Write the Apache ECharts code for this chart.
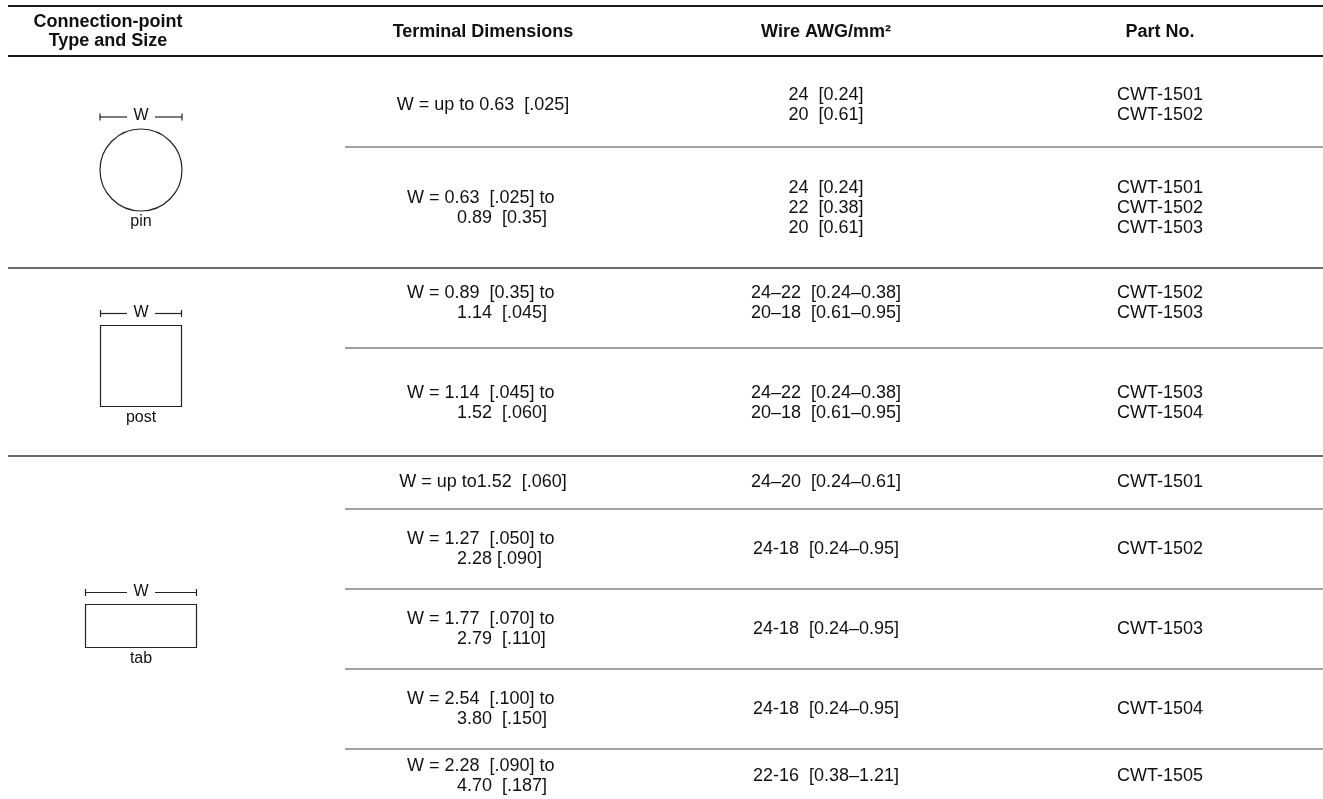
<!DOCTYPE html>
<html>
<head>
<meta charset="utf-8">
<script src="https://cdn.jsdelivr.net/npm/echarts@6/dist/echarts.min.js"></script>
<style>
  html, body { margin: 0; padding: 0; background: #fff; }
  #chart { width: 1323px; height: 799px; }
</style>
</head>
<body>
<div id="chart"></div>
<script>
// table content
const headers = ['Connection-point\nType and Size', 'Terminal Dimensions', 'Wire AWG/mm²', 'Part No.']
const connTypes = ['pin', 'post', 'tab']
const connRowCount = [2, 2, 5]
const dimensions = [
  ['W = up to 0.63  [.025]'],
  ['W = 0.63  [.025] to', '0.89  [0.35]'],
  ['W = 0.89  [0.35] to', '1.14  [.045]'],
  ['W = 1.14  [.045] to', '1.52  [.060]'],
  ['W = up to1.52  [.060]'],
  ['W = 1.27  [.050] to', '2.28 [.090]'],
  ['W = 1.77  [.070] to', '2.79  [.110]'],
  ['W = 2.54  [.100] to', '3.80  [.150]'],
  ['W = 2.28  [.090] to', '4.70  [.187]'],
]
const wireSizes = [
  ['24  [0.24]', '20  [0.61]'],
  ['24  [0.24]', '22  [0.38]', '20  [0.61]'],
  ['24–22  [0.24–0.38]', '20–18  [0.61–0.95]'],
  ['24–22  [0.24–0.38]', '20–18  [0.61–0.95]'],
  ['24–20  [0.24–0.61]'],
  ['24-18  [0.24–0.95]'],
  ['24-18  [0.24–0.95]'],
  ['24-18  [0.24–0.95]'],
  ['22-16  [0.38–1.21]'],
]
const partNumbers = [
  ['CWT-1501', 'CWT-1502'],
  ['CWT-1501', 'CWT-1502', 'CWT-1503'],
  ['CWT-1502', 'CWT-1503'],
  ['CWT-1503', 'CWT-1504'],
  ['CWT-1501'],
  ['CWT-1502'],
  ['CWT-1503'],
  ['CWT-1504'],
  ['CWT-1505'],
]

// layout, in page units (y grows downward)
const PAGE_W = 1323
const PAGE_H = 799
const colX = [108, 483, 826, 1160]
const dimLeft = 407
const dimIndent = 457
const ruleLeft = 8
const subRuleLeft = 345
const topRuleY = 6
const headRuleY = 56
const headMid = 32
const rowBottom = [147, 268, 348, 456, 509, 589, 669, 749, 799]
const rowMid = [105, 208, 303, 403, 482, 549, 629, 709, 776]
const lineH = 20
const shapeX = 141
const shapeMid = [170, 366, 626]
const shapeSize = [[82, 82], [81, 81], [111, 43]]

const BODY_FONT = '18px "Liberation Sans", Arial, sans-serif'
const HEAD_FONT = 'bold 18px "Liberation Sans", Arial, sans-serif'
const LABEL_FONT = '16px "Liberation Sans", Arial, sans-serif'
const INK = '#111'

const chart = echarts.init(document.getElementById('chart'))

function text(api, str, x, y, align, font) {
  const p = api.coord([x, y])
  return {
    type: 'text',
    style: { text: str, x: p[0], y: p[1], align, verticalAlign: 'middle', font: font || BODY_FONT, fill: INK },
  }
}

function rule(api, x0, x1, y, color, width) {
  const a = api.coord([x0, y])
  const b = api.coord([x1, y])
  return {
    type: 'line',
    shape: { x1: a[0], y1: a[1], x2: b[0], y2: b[1] },
    style: { stroke: color, lineWidth: width },
  }
}

// section index of each body row
const rowSection = []
connRowCount.forEach((n, s) => { for (let k = 0; k < n; k++) rowSection.push(s) })

function lineYs(n, mid) {
  const ys = []
  for (let k = 0; k < n; k++) ys.push(mid + (k - (n - 1) / 2) * lineH)
  return ys
}

function renderHeader(params, api) {
  const i = params.dataIndex
  const children = []
  const lines = headers[i].split('\n')
  const ys = lines.length > 1 ? [headMid - 9.5, headMid + 9.5] : [headMid]
  lines.forEach((l, k) => children.push(text(api, l, colX[i], ys[k], 'center', HEAD_FONT)))
  if (i === 0) {
    children.push(rule(api, ruleLeft, PAGE_W, topRuleY, '#1a1a1a', 2))
    children.push(rule(api, ruleLeft, PAGE_W, headRuleY, '#1a1a1a', 2))
  }
  return { type: 'group', children }
}

function renderRow(params, api) {
  const i = params.dataIndex
  const mid = rowMid[i]
  const children = []

  const dims = dimensions[i]
  if (dims.length === 1) {
    children.push(text(api, dims[0], colX[1], mid, 'center'))
  } else {
    const ys = lineYs(2, mid)
    children.push(text(api, dims[0], dimLeft, ys[0], 'left'))
    children.push(text(api, dims[1], dimIndent, ys[1], 'left'))
  }

  lineYs(wireSizes[i].length, mid).forEach((y, k) => children.push(text(api, wireSizes[i][k], colX[2], y, 'center')))
  lineYs(partNumbers[i].length, mid).forEach((y, k) => children.push(text(api, partNumbers[i][k], colX[3], y, 'center')))

  const last = i === rowSection.length - 1
  if (!last) {
    const endOfSection = rowSection[i + 1] !== rowSection[i]
    if (endOfSection) children.push(rule(api, ruleLeft, PAGE_W, rowBottom[i], '#3a3a3a', 1.6))
    else children.push(rule(api, subRuleLeft, PAGE_W, rowBottom[i], '#808080', 1.6))
  }
  return { type: 'group', children }
}

function renderShape(params, api) {
  const s = params.dataIndex
  const size = api.size([shapeSize[s][0], shapeSize[s][1]])
  const c = api.coord([shapeX, shapeMid[s]])
  const w = size[0], h = size[1]
  const top = c[1] - h / 2, bottom = c[1] + h / 2
  const left = c[0] - w / 2, right = c[0] + w / 2
  const barY = top - 12
  const gap = 14
  const stroke = { stroke: '#222', lineWidth: 1.2, fill: null }
  const children = []

  if (connTypes[s] === 'pin') {
    children.push({ type: 'circle', shape: { cx: c[0], cy: c[1], r: w / 2 }, style: stroke })
  } else {
    children.push({ type: 'rect', shape: { x: left, y: top, width: w, height: h }, style: stroke })
  }

  // width dimension bar with end ticks
  children.push({ type: 'line', shape: { x1: left, y1: barY, x2: c[0] - gap, y2: barY }, style: stroke })
  children.push({ type: 'line', shape: { x1: c[0] + gap, y1: barY, x2: right, y2: barY }, style: stroke })
  children.push({ type: 'line', shape: { x1: left, y1: barY - 3.5, x2: left, y2: barY + 3.5 }, style: stroke })
  children.push({ type: 'line', shape: { x1: right, y1: barY - 3.5, x2: right, y2: barY + 3.5 }, style: stroke })
  children.push({ type: 'text', style: { text: 'W', x: c[0], y: barY - 1, align: 'center', verticalAlign: 'middle', font: LABEL_FONT, fill: INK } })
  children.push({ type: 'text', style: { text: connTypes[s], x: c[0], y: bottom + 11, align: 'center', verticalAlign: 'middle', font: LABEL_FONT, fill: INK } })
  return { type: 'group', children }
}

chart.setOption({
  animation: false,
  grid: { left: 0, right: 0, top: 0, bottom: 0 },
  xAxis: { type: 'value', min: 0, max: PAGE_W, show: false },
  yAxis: { type: 'value', min: 0, max: PAGE_H, inverse: true, show: false },
  series: [
    {
      type: 'custom',
      name: 'header',
      renderItem: renderHeader,
      data: headers.map((h, i) => [i, i]),
      silent: true,
    },
    {
      type: 'custom',
      name: 'rows',
      renderItem: renderRow,
      data: dimensions.map((d, i) => [i, i]),
      silent: true,
    },
    {
      type: 'custom',
      name: 'shapes',
      renderItem: renderShape,
      data: connTypes.map((t, i) => [i, i]),
      silent: true,
    },
  ],
})
</script>
</body>
</html>
